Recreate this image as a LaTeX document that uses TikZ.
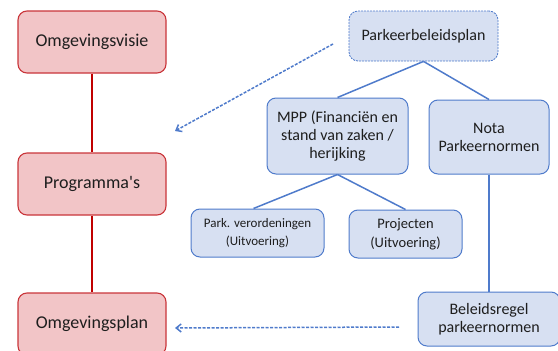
\documentclass[tikz,border=0pt]{standalone}
\usepackage{fontspec}
\setmainfont{Carlito}
\usetikzlibrary{arrows.meta}
\definecolor{redfill}{HTML}{F2C5C7}
\definecolor{redline}{HTML}{C9353A}
\definecolor{redconn}{HTML}{C00000}
\definecolor{bluefill}{HTML}{D7E0F2}
\definecolor{blueline}{HTML}{4F7BCB}
\definecolor{txt}{HTML}{1E1E1E}
\tikzset{
  redbox/.style={draw=redline, fill=redfill, line width=1.1pt, rounded corners=9pt,
    minimum width=148pt, minimum height=62pt, inner sep=0pt, text=txt,
    font=\fontsize{18pt}{20pt}\selectfont, align=center},
  bluebox/.style={draw=blueline, fill=bluefill, line width=1pt, rounded corners=9pt,
    inner sep=0pt, text=txt, font=\fontsize{16pt}{18pt}\selectfont, align=center},
  redconnector/.style={draw=redconn, line width=1.2pt},
  blueconnector/.style={draw=blueline, line width=1.5pt},
  dasharrow/.style={draw=blueline, line width=1.5pt, dash pattern=on 3pt off 1.5pt,
    -{Straight Barb[length=5pt,width=8pt,line width=1.5pt]}},
}
\begin{document}
\begin{tikzpicture}[x=1pt,y=-1pt]
\useasboundingbox (0,0) rectangle (558,351);
\node[redbox] (ov) at (92,42) {Omgevingsvisie};
\node[redbox] (prog) at (92,184) {Programma\textquotesingle s};
\node[redbox] (oplan) at (92,324) {Omgevingsplan};
\draw[redconnector] (ov) -- (prog);
\draw[redconnector] (prog) -- (oplan);

\node[bluebox, dash pattern=on 2pt off 1pt, line width=0.8pt, minimum width=149pt, minimum height=50pt] (pbp) at (423.5,36) {Parkeerbeleidsplan};
\node[bluebox, minimum width=141pt, minimum height=76pt] (mpp) at (337.5,136) {MPP (Financiën en\\stand van zaken /\\herijking};
\node[bluebox, minimum width=120pt, minimum height=74pt] (nota) at (489,137) {Nota\\Parkeernormen};
\node[bluebox, minimum width=133pt, minimum height=48pt, font=\fontsize{13pt}{17.6pt}\selectfont] (park) at (257.5,233) {Park. verordeningen\\(Uitvoering)};
\node[bluebox, minimum width=113pt, minimum height=48pt, font=\fontsize{14.5pt}{19pt}\selectfont] (proj) at (405.5,234) {Projecten\\(Uitvoering)};
\node[bluebox, minimum width=142pt, minimum height=54pt] (bel) at (489,319) {Beleidsregel\\parkeernormen};

\draw[blueconnector] (pbp.south) -- (mpp.north);
\draw[blueconnector] (pbp.south) -- (nota.north);
\draw[blueconnector] (mpp.south) -- ([xshift=-4pt]park.north);
\draw[blueconnector] (mpp.south) -- (proj.north);
\draw[blueconnector] (nota.south) -- (bel.north);

\coordinate (a1s) at (333,44);
\coordinate (a1e) at (175,131);
\coordinate (a2s) at (399,327);
\coordinate (a2e) at (175,328);
\draw[dasharrow] (a1s) -- (a1e);
\draw[dasharrow] (a2s) -- (a2e);
\end{tikzpicture}
\end{document}
